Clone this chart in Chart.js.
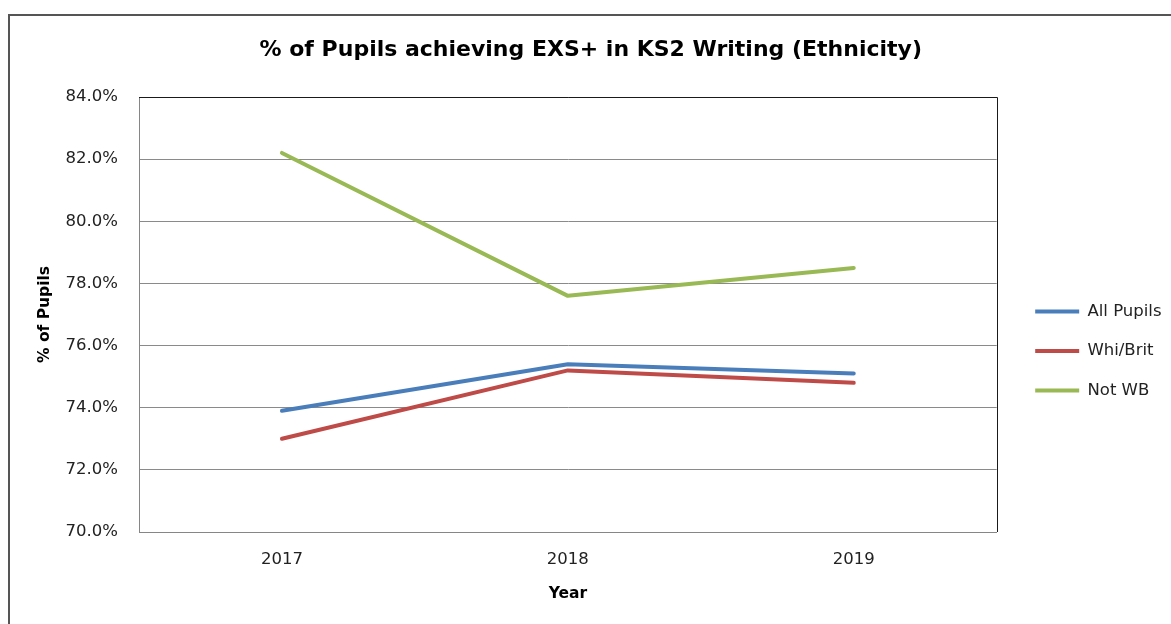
<!DOCTYPE html>
<html>
<head>
<meta charset="utf-8">
<title>KS2 Writing EXS+ by Ethnicity</title>
<script src="https://cdn.jsdelivr.net/npm/chart.js@4.4.0/dist/chart.umd.min.js"></script>
<style>
    html, body { margin: 0; padding: 0; background: #fff; overflow: hidden; width: 1171px; height: 624px; }
    .frame { position: absolute; left: 8px; top: 14px; width: 1200px; height: 700px; border: 2px solid #555; box-sizing: border-box; }
    #ethnicityChart { position: absolute; left: 10px; top: 16px; }
</style>
</head>
<body>
<div class="frame"></div>
<canvas id="ethnicityChart" width="1171" height="670"></canvas>
<script>
// Data
const years = ['2017', '2018', '2019'];
const allPupils = [73.9, 75.4, 75.1];
const whiteBritish = [73.0, 75.2, 74.8];
const notWhiteBritish = [82.2, 77.6, 78.5];

const yMin = 70;
const yMax = 84;
const yStep = 2;

const FONT = 'DejaVu Sans';

// Excel style plot frame: dark top and right edges
const plotFrame = {
    id: 'plotFrame',
    beforeDatasetsDraw(chart) {
        const { ctx, chartArea } = chart;
        ctx.save();
        ctx.strokeStyle = '#1a1a1a';
        ctx.lineWidth = 1;
        ctx.beginPath();
        ctx.moveTo(chartArea.left, Math.round(chartArea.top) + 0.5);
        ctx.lineTo(Math.round(chartArea.right) + 0.5, Math.round(chartArea.top) + 0.5);
        ctx.lineTo(Math.round(chartArea.right) + 0.5, chartArea.bottom);
        ctx.stroke();
        ctx.restore();
    }
};

function lineSeries(label, data, color) {
    return {
        label: label,
        data: data,
        borderColor: color,
        backgroundColor: color,
        borderWidth: 4,
        borderCapStyle: 'round',
        borderJoinStyle: 'round',
        pointRadius: 0,
        pointHoverRadius: 0,
        tension: 0,
        fill: false
    };
}

document.addEventListener('DOMContentLoaded', function() {
    const ctx = document.getElementById('ethnicityChart').getContext('2d');

    new Chart(ctx, {
        type: 'line',
        data: {
            labels: years,
            datasets: [
                lineSeries('All Pupils', allPupils, '#4A7EBB'),
                lineSeries('Whi/Brit', whiteBritish, '#BE4B48'),
                lineSeries('Not WB', notWhiteBritish, '#98B954')
            ]
        },
        options: {
            responsive: false,
            animation: false,
            devicePixelRatio: 1,
            layout: { padding: { left: 0, right: 9.5, top: 0, bottom: 0 } },
            plugins: {
                title: {
                    display: true,
                    text: '% of Pupils achieving EXS+ in KS2 Writing (Ethnicity)',
                    color: '#000',
                    font: { family: FONT, size: 22, weight: 'bold' },
                    padding: { top: 21, bottom: 33.6 }
                },
                legend: {
                    position: 'right',
                    align: 'center',
                    labels: {
                        usePointStyle: true,
                        pointStyle: 'line',
                        pointStyleWidth: 44,
                        padding: 23,
                        color: '#222',
                        font: { family: FONT, size: 16.5 }
                    }
                },
                tooltip: { enabled: false }
            },
            scales: {
                x: {
                    offset: true,
                    grid: { display: false, drawTicks: false },
                    border: { display: true, color: '#868686', width: 1 },
                    ticks: {
                        padding: 18,
                        color: '#222',
                        font: { family: FONT, size: 16.5 }
                    },
                    title: {
                        display: true,
                        text: 'Year',
                        color: '#000',
                        font: { family: FONT, size: 15.5, weight: 'bold' },
                        padding: { top: 0, bottom: 82.7 }
                    },
                    afterFit: function(scale) { scale.height = 154; }
                },
                y: {
                    min: yMin,
                    max: yMax,
                    grid: { color: '#8a8a8a', lineWidth: 1, drawTicks: false },
                    border: { display: true, color: '#868686', width: 1 },
                    ticks: {
                        stepSize: yStep,
                        padding: 21,
                        color: '#222',
                        font: { family: FONT, size: 16.5 },
                        callback: function(value) { return value.toFixed(1) + '%'; }
                    },
                    title: {
                        display: true,
                        text: '% of Pupils',
                        color: '#000',
                        font: { family: FONT, size: 15.5, weight: 'bold' },
                        padding: { top: 25.7, bottom: 0 }
                    },
                    afterFit: function(scale) { scale.width = 129; }
                },
                // spacer between the plot and the legend
                gap: {
                    position: 'right',
                    display: true,
                    grid: { display: false, drawTicks: false },
                    border: { display: false },
                    ticks: { display: false },
                    afterFit: function(scale) { scale.width = 15.5; }
                }
            }
        },
        plugins: [plotFrame]
    });
});
</script>
</body>
</html>
